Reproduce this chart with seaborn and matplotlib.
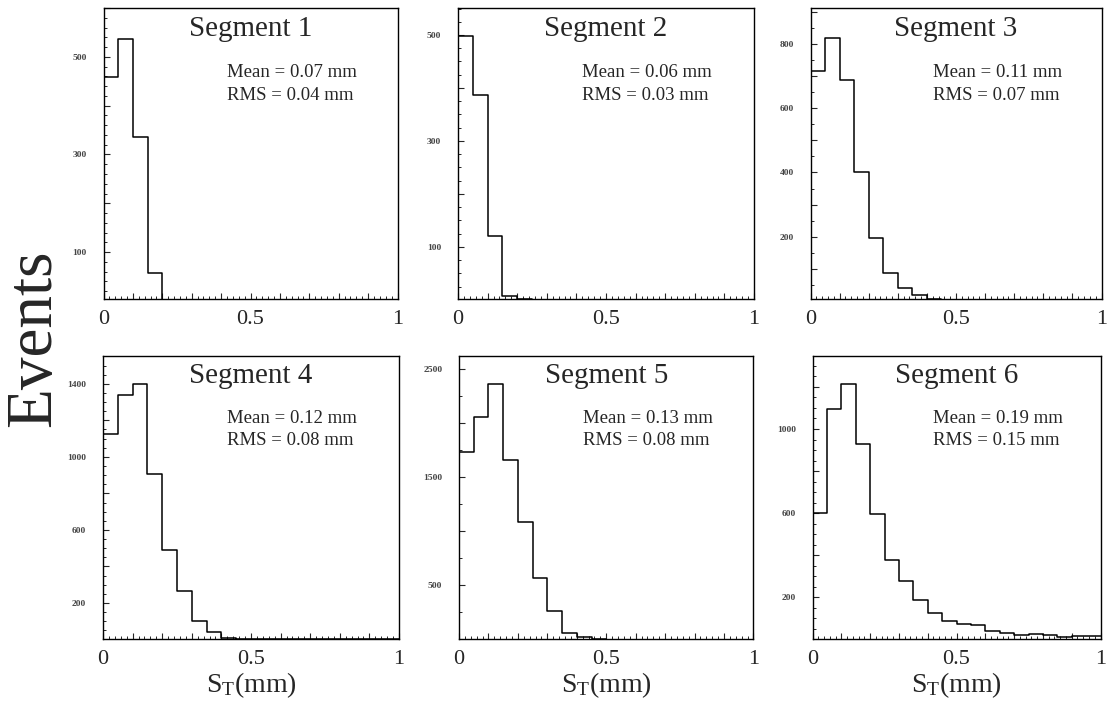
import numpy as np
import pandas as pd
import matplotlib
matplotlib.use("Agg")
import matplotlib.pyplot as plt
from matplotlib.ticker import MultipleLocator, FuncFormatter
import seaborn as sns

# ---- histogram contents (20 bins of 0.05 mm from 0 to 1 mm) ----
n_bins = 20
st_range = (0.0, 1.0)
bin_edges = np.linspace(st_range[0], st_range[1], n_bins + 1)
bin_centers = 0.5 * (bin_edges[:-1] + bin_edges[1:])

seg1_counts = [459, 537, 336, 57, 0, 0, 0, 0, 0, 0, 0, 0, 0, 0, 0, 0, 0, 0, 0, 0]
seg2_counts = [499, 387, 121, 8, 1, 0, 0, 0, 0, 0, 0, 0, 0, 0, 0, 0, 0, 0, 0, 0]
seg3_counts = [717, 821, 687, 400, 197, 86, 40, 19, 4, 0, 0, 0, 0, 0, 0, 0, 0, 0, 0, 0]
seg4_counts = [1126, 1340, 1400, 905, 490, 264, 99, 42, 6, 1, 0, 0, 0, 0, 0, 0, 0, 0, 0, 0]
seg5_counts = [1731, 2051, 2358, 1657, 1085, 571, 263, 57, 22, 3, 0, 0, 0, 0, 0, 0, 0, 0, 0, 0]
seg6_counts = [602, 1095, 1213, 927, 598, 376, 277, 186, 128, 89, 74, 68, 41, 30, 20, 25, 21, 13, 17, 17]

segment_names = ["Segment 1", "Segment 2", "Segment 3", "Segment 4", "Segment 5", "Segment 6"]
mean_labels = ["0.07", "0.06", "0.11", "0.12", "0.13", "0.19"]
rms_labels = ["0.04", "0.03", "0.07", "0.08", "0.08", "0.15"]

x_tick_labels = ["0", "0.5", "1"]
y_tick_labels = [
    [100, 300, 500],
    [100, 300, 500],
    [200, 400, 600, 800],
    [200, 600, 1000, 1400],
    [500, 1500, 2500],
    [200, 600, 1000],
]

all_counts = [seg1_counts, seg2_counts, seg3_counts, seg4_counts, seg5_counts, seg6_counts]

# ---- axis styling per panel ----
y_limits = [(4, 600), (1.4, 551), (5.5, 913), (1, 1555), (2, 2623), (1, 1349)]
y_major_step = [100, 100, 100, 200, 500, 200]
y_minor_step = [20, 25, 50, 50, 250, 50]

sns.set_style("white")
plt.rcParams["font.family"] = ["Liberation Serif", "DejaVu Serif"]
plt.rcParams["mathtext.fontset"] = "custom"
plt.rcParams["mathtext.rm"] = "Liberation Serif"
plt.rcParams["mathtext.it"] = "Liberation Serif:italic"

W, H = 1107, 713
fig = plt.figure(figsize=(W / 100, H / 100), dpi=100)

# panel boxes in pixels: (left, top, right, bottom)
boxes = [
    (103.5, 8, 397.5, 299),
    (458.0, 8, 754.0, 299),
    (810.5, 8, 1101.5, 299),
    (103.0, 355.5, 399.0, 639.3),
    (459.0, 355.5, 753.5, 639.3),
    (812.5, 355.5, 1100.5, 639.3),
]

x_label_map = {0.0: x_tick_labels[0], 0.5: x_tick_labels[1], 1.0: x_tick_labels[2]}

for i, (counts, box) in enumerate(zip(all_counts, boxes)):
    l, t, r, b = box
    ax = fig.add_axes([l / W, 1 - b / H, (r - l) / W, (b - t) / H])
    df = pd.DataFrame({"st": bin_centers, "n": np.asarray(counts, dtype=float)})
    sns.histplot(data=df, x="st", weights="n", bins=n_bins, binrange=st_range,
                 element="step", fill=False, color="black", linewidth=1.1, ax=ax)
    ax.set_xlim(*st_range)
    ax.set_ylim(*y_limits[i])
    ax.set_xlabel("")
    ax.set_ylabel("")

    for sp in ax.spines.values():
        sp.set_visible(True)
        sp.set_color("black")
        sp.set_linewidth(1.0)

    # x axis: labels at 0, 0.5, 1; ticks every 0.1 and 0.02
    ax.xaxis.set_major_locator(MultipleLocator(0.1))
    ax.xaxis.set_minor_locator(MultipleLocator(0.02))
    ax.xaxis.set_major_formatter(FuncFormatter(
        lambda v, p: x_label_map.get(round(v, 2), "")))
    ax.tick_params(axis="x", which="major", direction="in", length=4, width=0.8,
                   labelsize=16, pad=8, top=False, bottom=True)
    ax.tick_params(axis="x", which="minor", direction="in", length=2, width=0.7,
                   top=False, bottom=True)

    # y axis
    labs = y_tick_labels[i]
    ax.yaxis.set_major_locator(MultipleLocator(y_major_step[i]))
    ax.yaxis.set_minor_locator(MultipleLocator(y_minor_step[i]))
    ax.yaxis.set_major_formatter(FuncFormatter(
        lambda v, p, labs=labs: str(int(round(v))) if int(round(v)) in labs else ""))
    ax.tick_params(axis="y", which="major", direction="in", length=4, width=0.8,
                   labelsize=6.8, pad=12, labelcolor="#444444", left=True, right=False)
    ax.tick_params(axis="y", which="minor", direction="in", length=2, width=0.7,
                   left=True, right=False)
    for lab in ax.get_yticklabels():
        lab.set_fontweight("bold")

    ax.text(0.5, 0.903, segment_names[i], transform=ax.transAxes, ha="center",
            va="baseline", fontsize=21)
    ax.text(0.42, 0.763, f"Mean = {mean_labels[i]} mm", transform=ax.transAxes,
            ha="left", va="baseline", fontsize=13.5)
    ax.text(0.42, 0.683, f"RMS = {rms_labels[i]} mm", transform=ax.transAxes,
            ha="left", va="baseline", fontsize=13.5)

    if i >= 3:
        ax.text(0.5, -0.185, r"S$_\mathrm{T}$(mm)", transform=ax.transAxes,
                ha="center", va="baseline", fontsize=20)

fig.text(34 / W, 1 - 338 / H, "Events", rotation=90, ha="center", va="center",
         fontsize=47)

fig.savefig("out.png", dpi=100, facecolor="white")
